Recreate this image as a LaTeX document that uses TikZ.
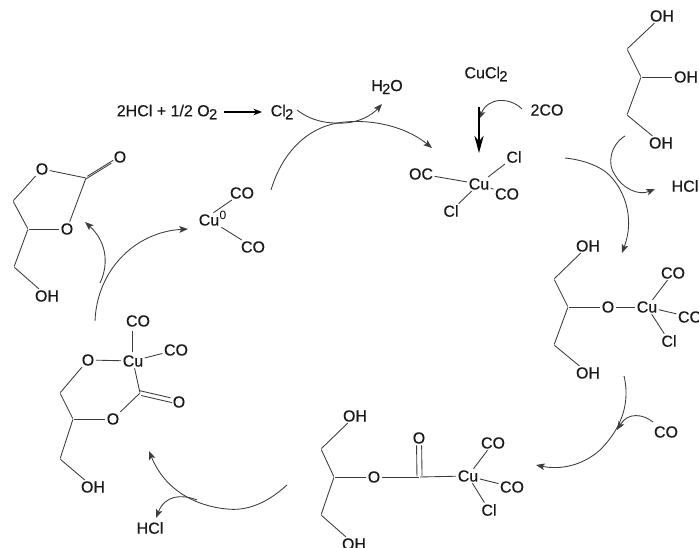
\documentclass[tikz,border=0pt]{standalone}
\usepackage{fontspec}
\setmainfont{Liberation Sans}
\newfontfamily\atomfont{Liberation Sans}[FakeBold=0.35]
\usetikzlibrary{arrows.meta}
\newcommand{\sbs}[1]{\kern-0.5pt\raisebox{-0.35ex}{\fontsize{11pt}{11pt}\selectfont #1}}
\definecolor{bondc}{HTML}{3C3C3C}
\tikzset{
  x=0.75pt,y=-0.75pt,
  atom/.style={inner sep=0.6pt,font=\atomfont\fontsize{12pt}{13pt}\selectfont,text=black!90},
  bond/.style={draw=bondc,line width=0.65pt,shorten >=0.4pt,shorten <=0.4pt},
  curve/.style={draw=bondc,line width=0.65pt,-{Stealth[length=6.5pt,width=5pt,inset=1.5pt]}},
}
\begin{document}
\begin{tikzpicture}
\useasboundingbox (0,0) rectangle (699,548);
\clip (0,0) rectangle (699,548);
% ---- left carbonate
\node[atom] (a1) at (42,169) {O};
\coordinate (a2) at (86,178);
\node[atom] (a3) at (120,157) {O};
\node[atom] (a4) at (67,229) {O};
\coordinate (a5) at (28,229);
\coordinate (a6) at (13,201);
\coordinate (a7) at (14,267);
\node[atom] (a8) at (47,296) {OH};
\draw[bond] (a1)--(a2); \draw[bond] (a2)--(a4); \draw[bond] (a4)--(a5);
\draw[bond] (a5)--(a6); \draw[bond] (a6)--(a1); \draw[bond] (a5)--(a7); \draw[bond] (a7)--(a8);
\draw[bond,transform canvas={shift={(-0.7pt,-1.1pt)}}] (a2)--(a3);
\draw[bond,transform canvas={shift={(0.7pt,1.1pt)}}] (a2)--(a3);
% ---- Cu(0)
\node[atom] (b1) at (209,220) {Cu};
\node[inner sep=0.6pt,font=\fontsize{9pt}{10pt}\selectfont] (b0) at (223,215) {0};
\node[atom] (b2) at (242,193) {CO};
\node[atom] (b3) at (253,247) {CO};
\coordinate (b4) at (213,213); \coordinate (b5) at (221,227);
\draw[bond] (b4)--(b2); \draw[bond] (b5)--(b3);
% ---- top reaction
\node[atom] (r1) at (167,112) {2HCl + 1/2 O\sbs{2}};
\node[atom] (r2) at (282,112) {Cl\sbs{2}};
\coordinate (r3) at (224,112); \coordinate (r7) at (262,112);
\draw[draw=black,line width=0.8pt,-{Stealth[length=6.5pt,width=5pt]}] (r3) -- (r7);
\node[atom] (r4) at (387,87) {H\sbs{2}O};
\node[atom] (r5) at (486,74) {CuCl\sbs{2}};
\node[atom] (r6) at (547,110) {2CO};
% ---- Cu(II) complex
\node[atom] (c1) at (479,184) {Cu};
\node[atom] (c2) at (514,157) {Cl};
\node[atom] (c3) at (421,174) {OC};
\node[atom] (c4) at (507,194) {CO};
\node[atom] (c5) at (451,211) {Cl};
\draw[bond] (c3)--(c1); \draw[bond] (c1)--(c2); \draw[bond] (c1)--(c4); \draw[bond] (c1)--(c5);
% ---- glycerol
\node[atom] (d1) at (662,16) {OH};
\coordinate (d2) at (627,49); \coordinate (d3) at (641,77); \coordinate (d4) at (627,115);
\node[atom] (d5) at (686,77) {OH};
\node[atom] (d6) at (661,143) {OH};
\draw[bond] (d1)--(d2); \draw[bond] (d2)--(d3); \draw[bond] (d3)--(d4); \draw[bond] (d3)--(d5); \draw[bond] (d4)--(d6);
\node[atom] (d7) at (685,186) {HCl};
% ---- right complex
\node[atom] (e1) at (588,246) {OH};
\coordinate (e2) at (554,279); \coordinate (e3) at (568,307); \coordinate (e4) at (554,345);
\node[atom] (e5) at (588,373) {OH};
\node[atom] (e6) at (608,307) {O};
\node[atom] (e7) at (647,307) {Cu};
\node[atom] (e8) at (673,273) {CO};
\node[atom] (e9) at (690,317) {CO};
\node[atom] (e10) at (669,341) {Cl};
\draw[bond] (e1)--(e2); \draw[bond] (e2)--(e3); \draw[bond] (e3)--(e4); \draw[bond] (e4)--(e5);
\draw[bond] (e3)--(e6); \draw[bond] (e6)--(e7); \draw[bond] (e7)--(e8); \draw[bond] (e7)--(e9); \draw[bond] (e7)--(e10);
\node[atom] (e11) at (666,432) {CO};
% ---- bottom complex
\node[atom] (f1) at (355,416) {OH};
\coordinate (f2) at (321,449); \coordinate (f3) at (334,477); \coordinate (f4) at (321,515);
\node[atom] (f5) at (354,544) {OH};
\node[atom] (f6) at (374,477) {O};
\coordinate (f7) at (419.5,477);
\node[atom] (f8) at (419,438) {O};
\node[atom] (f9) at (468,476) {Cu};
\node[atom] (f10) at (493,443) {CO};
\node[atom] (f11) at (512,487) {CO};
\node[atom] (f12) at (489,510) {Cl};
\draw[bond] (f1)--(f2); \draw[bond] (f2)--(f3); \draw[bond] (f3)--(f4); \draw[bond] (f4)--(f5);
\draw[bond] (f3)--(f6); \draw[bond] (f6)--(f7); \draw[bond] (f7)--(f9);
\draw[bond] (f9)--(f10); \draw[bond] (f9)--(f11); \draw[bond] (f9)--(f12);
\draw[bond,transform canvas={xshift=-1.9pt}] (f7)--(f8);
\draw[bond,transform canvas={xshift=1.9pt}] (f7)--(f8);
% ---- left complex
\node[atom] (g1) at (133,361) {Cu};
\node[atom] (g2) at (138,321) {CO};
\node[atom] (g3) at (176,350) {CO};
\node[atom] (g4) at (88,360) {O};
\coordinate (g5) at (60,393); \coordinate (g6) at (73,419); \coordinate (g7) at (60,459);
\node[atom] (g8) at (93,487) {OH};
\node[atom] (g9) at (113,419) {O};
\coordinate (g10) at (140,393);
\node[atom] (g11) at (179,402) {O};
\node[atom] (g12) at (150,528) {HCl};
\coordinate (g13) at (132,353); \coordinate (g14) at (132,330);
\draw[bond] (g13)--(g14); \draw[bond] (g1)--(g3); \draw[bond] (g4)--(g1);
\draw[bond] (g4)--(g5); \draw[bond] (g5)--(g6); \draw[bond] (g6)--(g7); \draw[bond] (g7)--(g8);
\draw[bond] (g6)--(g9); \draw[bond] (g9)--(g10); \draw[bond] (g1)--(g10);
\draw[bond,transform canvas={shift={(0.5pt,-1.8pt)}}] (g10)--(g11);
\draw[bond,transform canvas={shift={(-0.5pt,1.8pt)}}] (g10)--(g11);
% ---- free ends of the curved arrows
\coordinate (p1) at (271,190);  \coordinate (q1) at (432,148);
\coordinate (p2) at (297,110);  \coordinate (q2) at (382,104);
\coordinate (p3) at (95,321);   \coordinate (q3) at (188,229);
\coordinate (p4) at (100,283);  \coordinate (q4) at (85,222);
\coordinate (p5) at (565,158);  \coordinate (q5) at (622,253);
\coordinate (p6) at (625,136);  \coordinate (q6) at (655,189);
\coordinate (p7) at (624,376);  \coordinate (q7) at (536,465);
\coordinate (p8) at (653,422);  \coordinate (q8) at (617,430);
\coordinate (p9) at (522,109);  \coordinate (q9) at (479,119);
\coordinate (p10) at (287,485); \coordinate (q10) at (149,451);
\coordinate (p11) at (197,500); \coordinate (q11) at (156,518);
\coordinate (p12) at (479,107); \coordinate (q12) at (479,153);
\draw[curve] (p1) .. controls (283,150) and (310,125) .. (345,122) .. controls (380,119) and (410,130) .. (q1);
\draw[curve] (p2) .. controls (310,120) and (325,124) .. (345,123) .. controls (360,122) and (372,115) .. (q2);
\draw[curve] (p3) .. controls (97,270) and (135,232) .. (q3);
\draw[curve] (p4) .. controls (110,262) and (105,240) .. (q4);
\draw[curve] (p5) .. controls (585,160) and (600,167) .. (607,173) .. controls (622,186) and (636,215) .. (q5);
\draw[curve] (p6) .. controls (610,145) and (607,165) .. (615,175) .. controls (622,188) and (638,196) .. (q6);
\draw[curve] (p7) .. controls (632,410) and (615,435) .. (600,450) .. controls (582,466) and (560,470) .. (q7);
\draw[curve] (p8) .. controls (643,414) and (628,412) .. (q8);
\draw[curve] (p9) .. controls (510,97) and (488,97) .. (q9);
\draw[curve] (p10) .. controls (265,505) and (245,511) .. (227,509) .. controls (195,506) and (165,490) .. (q10);
\draw[curve] (p11) .. controls (182,494) and (165,495) .. (q11);
\draw[draw=black,line width=0.8pt,-{Stealth[length=13pt,width=7pt]}] (p12) -- (q12);
\end{tikzpicture}
\end{document}
